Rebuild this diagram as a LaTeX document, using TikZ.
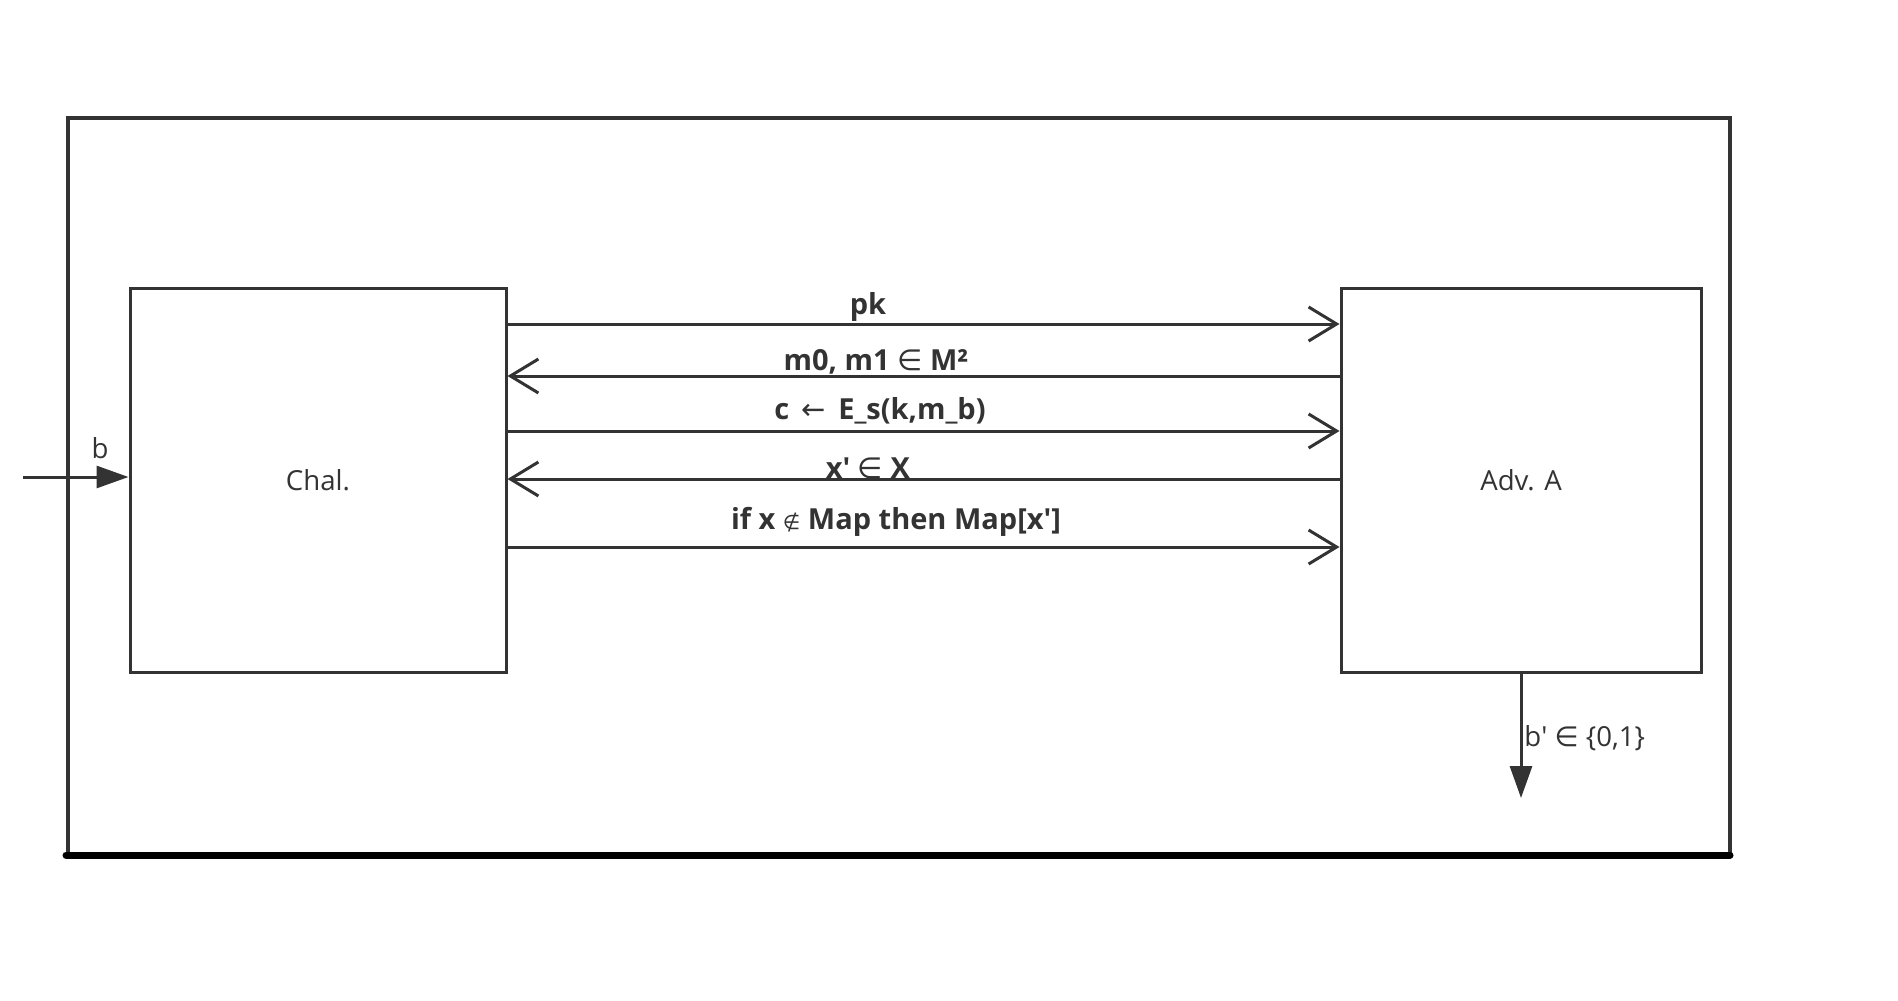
\documentclass[tikz,border=0pt]{standalone}
\usepackage{fontspec}
\setmainfont{Open Sans}
\usetikzlibrary{arrows.meta}
\definecolor{ink}{HTML}{333333}
\newcommand{\sq}{\textquotesingle}
\tikzset{
  box/.style={draw=ink, line width=1.5pt, fill=white, text=ink, font=\fontsize{13.8}{16}\selectfont, inner sep=0pt},
  msg/.style={draw=ink, line width=1.5pt, -{Straight Barb[length=14pt,width=17pt,line width=1.5pt]}},
  io/.style={draw=ink, line width=1.5pt, -{Triangle[length=16pt,width=11pt]}},
  lbl/.style={text=ink, font=\fontsize{14.5}{17}\selectfont\bfseries, inner sep=0pt},
  plain/.style={text=ink, font=\fontsize{13.8}{16}\selectfont, inner sep=0pt}
}
\begin{document}
\begin{tikzpicture}[x=0.5pt,y=-0.5pt]
\useasboundingbox (0,0) rectangle (1898,1000);
% outer frame
\coordinate (oTL) at (68,118);
\coordinate (oTR) at (1730,118);
\coordinate (oBL) at (68,855);
\coordinate (oBR) at (1730,855);
\coordinate (oBL2) at (66,855);
\draw[ink, line width=1.6pt] (oBL) -- (oTL) -- (oTR) -- (oBR);
\draw[black, line width=3.5pt, line cap=round] (oBL2) -- (oBR);
% boxes
\node[box, minimum width=188pt, minimum height=192pt] (chal) at (318,480) {Chal.};
\node[box, minimum width=180pt, minimum height=192pt] (adv) at (1521,480) {Adv. A};
% message rows
\coordinate (r1) at (0,324);
\coordinate (r2) at (0,376);
\coordinate (r3) at (0,431);
\coordinate (r4) at (0,479);
\coordinate (r5) at (0,547);
\draw[msg] (chal.east |- r1) -- (adv.west |- r1);
\draw[msg] (adv.west |- r2) -- (chal.east |- r2);
\draw[msg] (chal.east |- r3) -- (adv.west |- r3);
\draw[msg] (adv.west |- r4) -- (chal.east |- r4);
\draw[msg] (chal.east |- r5) -- (adv.west |- r5);
\node[lbl] (l1) at (868,307) {pk};
\node[lbl] (l2) at (876,362) {m0, m1 {\fontspec{DejaVu Sans}\mdseries ∈} M²};
\node[lbl] (l3) at (880,411) {c \,{\fontspec{DejaVu Sans}\mdseries ←}\, E\_s(k,m\_b)};
\node[lbl] (l4) at (868,468) {x\sq{} {\fontspec{DejaVu Sans}\mdseries ∈} X};
\node[lbl] (l5) at (896,522) {if x {\fontspec{DejaVu Sans}\mdseries\fontsize{10}{12}\selectfont ∉} Map then Map[x\sq]};
% input b
\coordinate (bin) at (23,477);
\draw[io] (bin) -- (chal.west |- bin);
\node[plain] (lb) at (100,448) {b};
% output b'
\coordinate (bout) at (1521,798);
\draw[io] (adv.south) -- (bout);
\node[plain, anchor=west] (lbo) at (1524,738) {b\sq{} {\fontspec{DejaVu Sans}∈} \{0,1\}};
\end{tikzpicture}
\end{document}
